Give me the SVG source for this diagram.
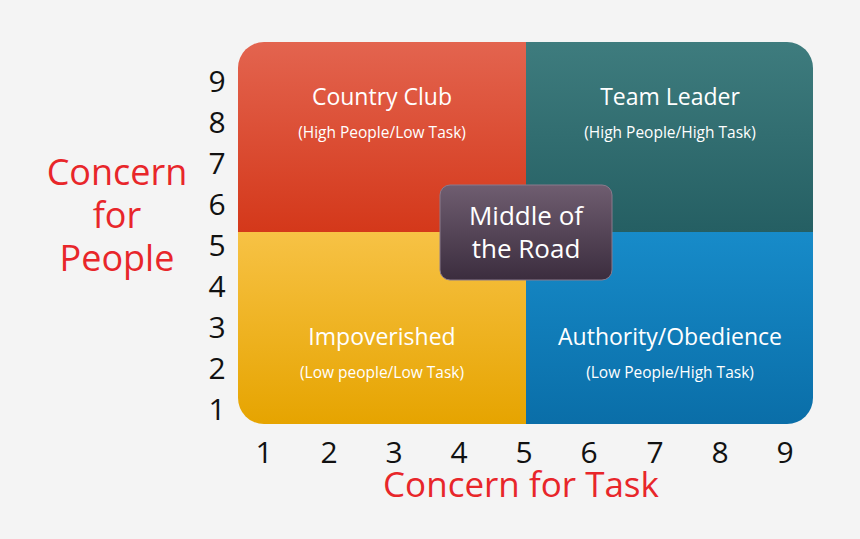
<svg xmlns="http://www.w3.org/2000/svg" width="860" height="539" viewBox="0 0 860 539">
<defs>
<linearGradient id="gr" x1="0" y1="0" x2="0" y2="1"><stop offset="0" stop-color="#e3644f"/><stop offset="1" stop-color="#d4381a"/></linearGradient>
<linearGradient id="gt" x1="0" y1="0" x2="0" y2="1"><stop offset="0" stop-color="#3e7c7e"/><stop offset="1" stop-color="#255f63"/></linearGradient>
<linearGradient id="gy" x1="0" y1="0" x2="0" y2="1"><stop offset="0" stop-color="#f7c245"/><stop offset="1" stop-color="#e6a400"/></linearGradient>
<linearGradient id="gb" x1="0" y1="0" x2="0" y2="1"><stop offset="0" stop-color="#178bc9"/><stop offset="1" stop-color="#0a6ea8"/></linearGradient>
<linearGradient id="gm" x1="0" y1="0" x2="0" y2="1"><stop offset="0" stop-color="#6f5d70"/><stop offset="1" stop-color="#3b2d3e"/></linearGradient>
<clipPath id="c"><rect x="238" y="42" width="575" height="382" rx="26"/></clipPath>
</defs>
<style>
text{font-family:"Open Sans","Liberation Sans",sans-serif;text-anchor:middle}
.t{fill:#fff;font-size:23px}
.s{fill:#fff;font-size:15.5px}
.n{fill:#111;font-size:30px}
.a{fill:#e8262a;font-size:36px}
</style>
<rect width="860" height="539" fill="#f4f4f4"/>
<g clip-path="url(#c)">
<g id="country"><rect x="238" y="42" width="288" height="190" fill="url(#gr)"/></g>
<g id="team"><rect x="526" y="42" width="287" height="190" fill="url(#gt)"/></g>
<g id="impov"><rect x="238" y="232" width="288" height="192" fill="url(#gy)"/></g>
<g id="auth"><rect x="526" y="232" width="287" height="192" fill="url(#gb)"/></g>
</g>
<g id="connectors"></g>
<text class="t" x="382" y="105">Country Club</text>
<text class="s" x="382" y="138">(High People/Low Task)</text>
<text class="t" x="670" y="105">Team Leader</text>
<text class="s" x="670" y="138">(High People/High Task)</text>
<text class="t" x="382" y="345">Impoverished</text>
<text class="s" x="382" y="378">(Low people/Low Task)</text>
<text class="t" x="670" y="345">Authority/Obedience</text>
<text class="s" x="670" y="378">(Low People/High Task)</text>
<g id="middle"><rect x="440" y="185" width="172" height="95" rx="10" fill="url(#gm)" stroke="#8a7a8c" stroke-width="1"/>
<text class="t" x="526" y="225" style="font-size:26px">Middle of</text>
<text class="t" x="526" y="258" style="font-size:26px">the Road</text></g>
<g id="yaxis">
<text class="n" x="217" y="92">9</text><text class="n" x="217" y="133">8</text><text class="n" x="217" y="174">7</text><text class="n" x="217" y="215">6</text><text class="n" x="217" y="256">5</text><text class="n" x="217" y="297">4</text><text class="n" x="217" y="338">3</text><text class="n" x="217" y="379">2</text><text class="n" x="217" y="420">1</text>
</g>
<g id="xaxis">
<text class="n" x="264" y="463">1</text><text class="n" x="329" y="463">2</text><text class="n" x="394" y="463">3</text><text class="n" x="459" y="463">4</text><text class="n" x="524" y="463">5</text><text class="n" x="589" y="463">6</text><text class="n" x="655" y="463">7</text><text class="n" x="720" y="463">8</text><text class="n" x="785" y="463">9</text>
</g>
<text class="a" x="117" y="185">Concern</text>
<text class="a" x="117" y="228">for</text>
<text class="a" x="117" y="271">People</text>
<text class="a" x="521" y="497" style="font-size:35px">Concern for Task</text>
</svg>
